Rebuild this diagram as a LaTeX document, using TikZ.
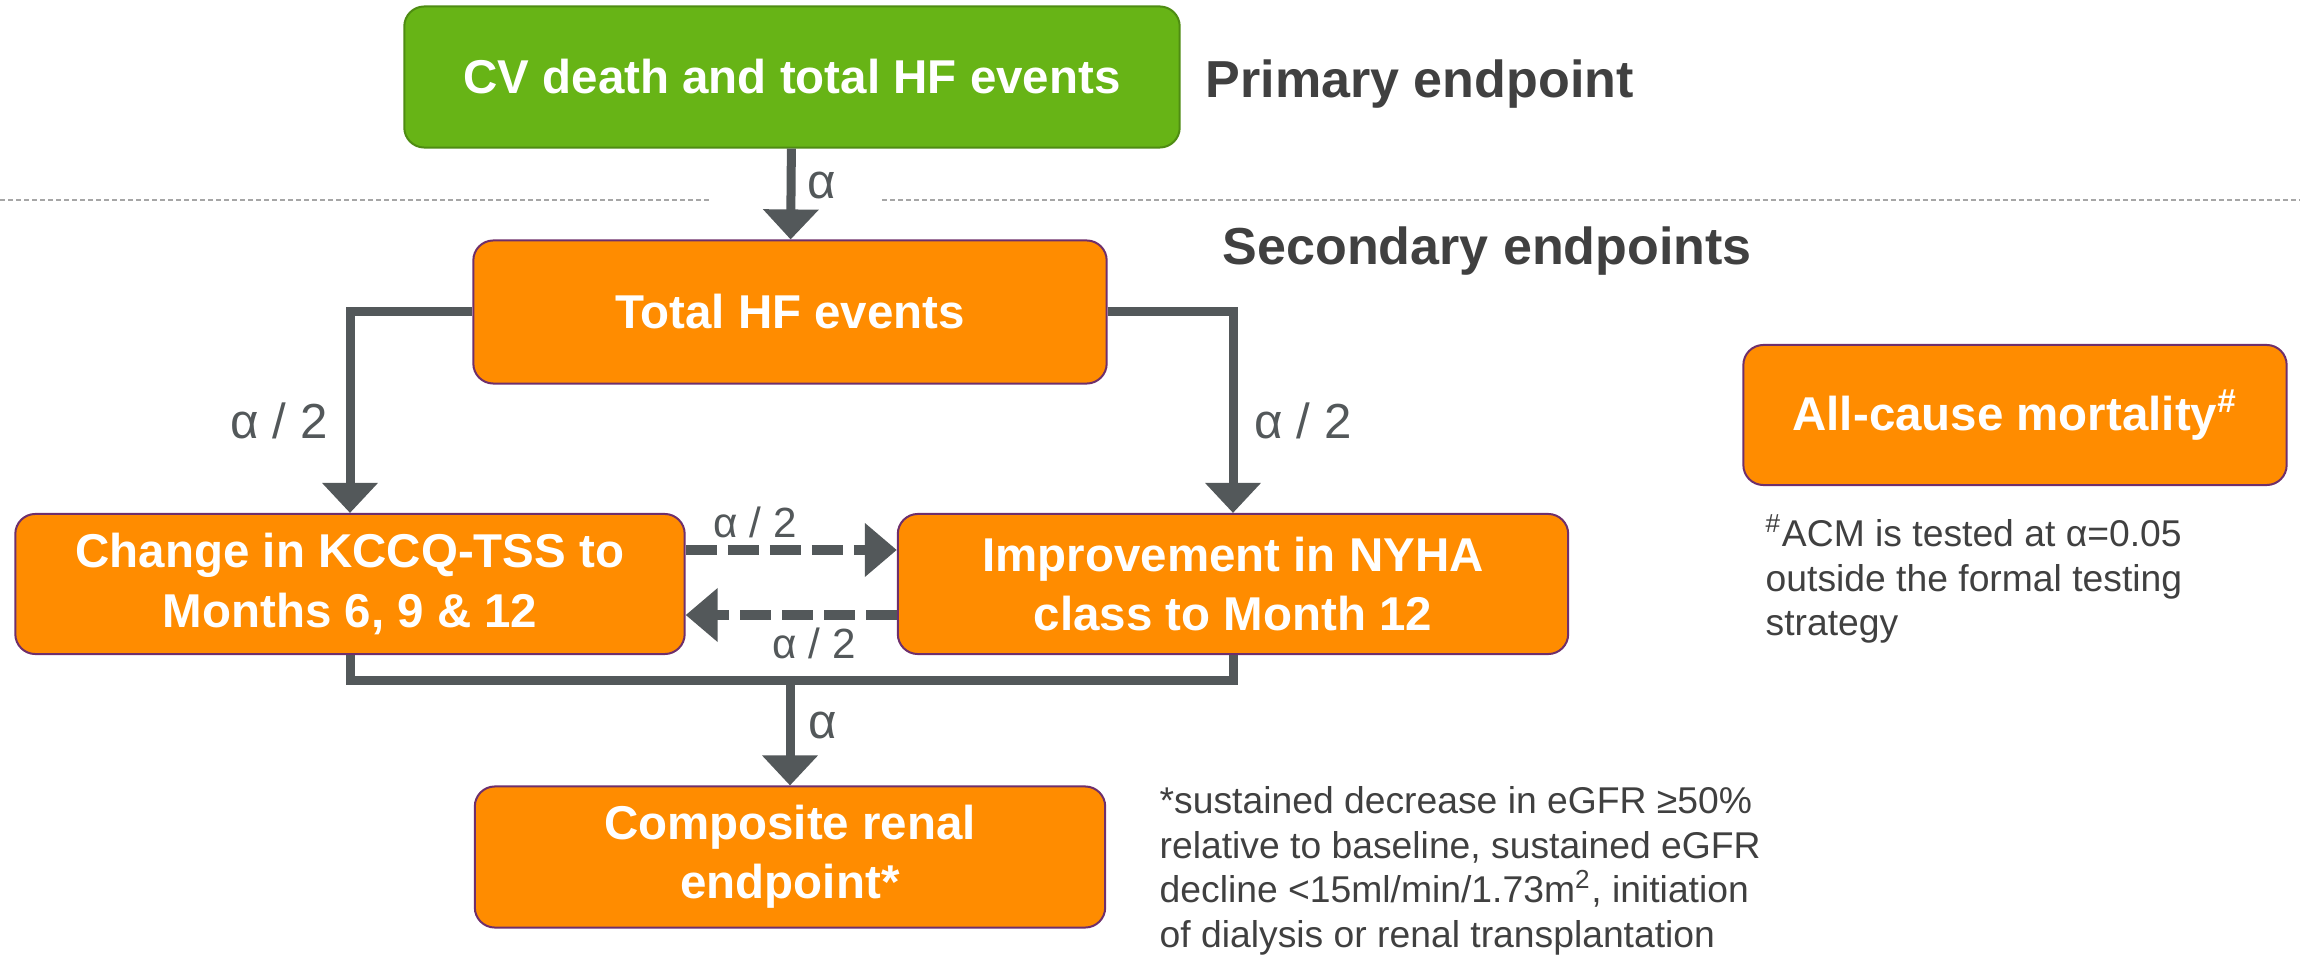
\documentclass[tikz,border=0pt]{standalone}
\usepackage{fontspec}
\setmainfont{Liberation Sans}
\usetikzlibrary{arrows.meta}

\definecolor{boxorange}{HTML}{FF8C00}
\definecolor{boxedge}{HTML}{6E2F6C}
\definecolor{boxgreen}{HTML}{67B416}
\definecolor{greenedge}{HTML}{4E8C12}
\definecolor{flowgrey}{HTML}{53585A}
\definecolor{textgrey}{HTML}{404040}
\definecolor{sepgrey}{HTML}{A6A6A6}

\tikzset{
  endbox/.style={draw=boxedge, line width=0.02cm, fill=boxorange, rounded corners=0.2cm,
    text=white, font=\fontsize{13.5}{16.8}\selectfont\bfseries, align=center, inner sep=0},
  flowline/.style={draw=flowgrey, line width=0.09cm},
  flow/.style={flowline, -{Triangle[length=0.3cm,width=0.54cm]}},
  swap/.style={draw=flowgrey, line width=0.1cm, dash pattern=on 0.31cm off 0.11cm,
    -{Triangle[length=0.32cm,width=0.52cm]}},
  alab/.style={text=flowgrey, font=\fontsize{14}{16}\selectfont, inner sep=0},
  slab/.style={text=flowgrey, font=\fontsize{12}{14}\selectfont, inner sep=0},
  header/.style={text=textgrey, font=\fontsize{14.8}{17}\selectfont\bfseries, inner sep=0, anchor=base west},
  note/.style={text=textgrey, font=\fontsize{10.6}{12.66}\selectfont, align=left, inner sep=0, anchor=north west},
  sepline/.style={draw=sepgrey, line width=0.02cm, dash pattern=on 0.05cm off 0.03cm}
}

\begin{document}
\begin{tikzpicture}[x=0.01cm, y=-0.01cm]
    \useasboundingbox (0,0) rectangle (2300,955);

    % endpoint boxes
    \node[endbox, fill=boxgreen, draw=greenedge, minimum width=7.75cm, minimum height=1.41cm] (primary) at (792,77) {CV death and total HF events};
    \node[endbox, minimum width=6.33cm, minimum height=1.43cm] (totalhf) at (790,312) {Total HF events};
    \node[endbox, minimum width=6.69cm, minimum height=1.4cm] (kccq) at (350,584) {Change in KCCQ-TSS to\\Months 6, 9 \& 12};
    \node[endbox, minimum width=6.7cm, minimum height=1.4cm] (nyha) at (1233,584) {Improvement in NYHA\\class to Month 12};
    \node[endbox, minimum width=6.3cm, minimum height=1.41cm] (renal) at (790,857) {Composite renal\\endpoint*};
    \node[endbox, minimum width=5.43cm, minimum height=1.4cm] (acm) at (2015,415) {All-cause mortality\textsuperscript{\#}};

    % headings
    \node[header] (primlab) at (1205,98) {Primary endpoint};
    \node[header] (seclab) at (1222,265) {Secondary endpoints};

    % separator between primary and secondary
    \draw[sepline] (0,200) -- (712,200);
    \draw[sepline] (882,200) -- (2300,200);

    % testing sequence
    \draw[flow] (primary) -- (totalhf);
    \draw[flow] (totalhf.west) -| (kccq.north);
    \draw[flow] (totalhf.east) -| (nyha.north);
    \draw[swap] ([yshift=0.34cm]kccq.east) -- ([yshift=0.34cm]nyha.west);
    \draw[swap] ([yshift=-0.31cm]nyha.west) -- ([yshift=-0.31cm]kccq.east);
    \coordinate (join) at (790,680);
    \draw[flowline] (kccq.south) |- (join) -| (nyha.south);
    \draw[flow] (join) -- (renal);

    % alpha split labels
    \node[alab] (a1) at (822,185) {α};
    \node[alab] (a2l) at (279,421) {α / 2};
    \node[alab] (a2r) at (1303,421) {α / 2};
    \node[slab] (a3) at (755,522) {α / 2};
    \node[slab] (a4) at (814,643) {α / 2};
    \node[alab] (a5) at (823,725) {α};

    % footnotes
    \node[note] (acmnote) at (1765,514) {\textsuperscript{\#}ACM is tested at α=0.05\\outside the formal testing\\strategy};
    \node[note] (renalnote) at (1159,786) {*sustained decrease in eGFR ≥50\%\\relative to baseline, sustained eGFR\\decline <15ml/min/1.73m\textsuperscript{2}, initiation\\of dialysis or renal transplantation};
\end{tikzpicture}
\end{document}
